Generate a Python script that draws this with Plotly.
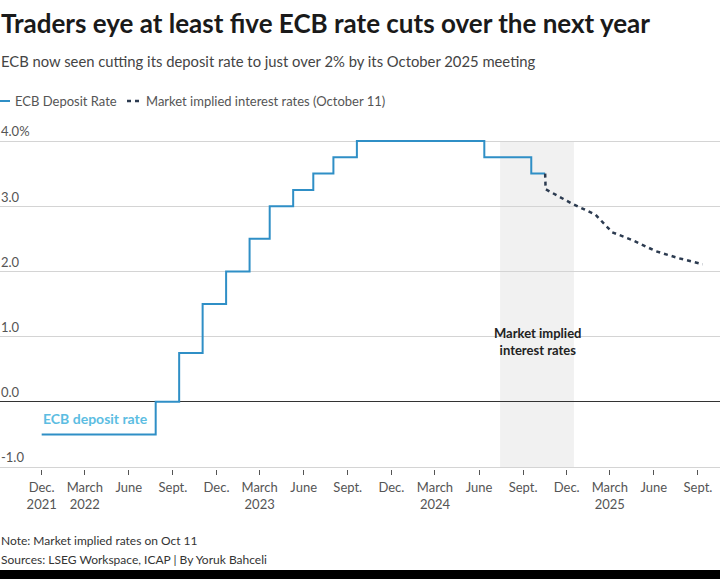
import plotly.graph_objects as go

# ---------------- data ----------------
ecb_dates = ["2021-12-01", "2022-07-27", "2022-09-14", "2022-11-02", "2022-12-21",
             "2023-02-08", "2023-03-22", "2023-05-10", "2023-06-21", "2023-08-02",
             "2023-09-20", "2024-06-12", "2024-09-18", "2024-10-17"]
ecb_rates = [-0.5, 0.0, 0.75, 1.5, 2.0, 2.5, 3.0, 3.25, 3.5, 3.75, 4.0, 3.75, 3.5, 3.5]

market_dates = ["2024-10-17", "2024-10-18", "2024-12-12", "2025-01-30", "2025-03-06",
                "2025-04-17", "2025-06-05", "2025-07-24", "2025-09-11"]
market_rates = [3.5, 3.26, 3.04, 2.87, 2.60, 2.48, 2.31, 2.20, 2.11]

shade_period = ["2024-07-15", "2024-12-16"]

x_tick_vals = ["2021-12-01", "2022-03-01", "2022-06-01", "2022-09-01", "2022-12-01",
               "2023-03-01", "2023-06-01", "2023-09-01", "2023-12-01", "2024-03-01",
               "2024-06-01", "2024-09-01", "2024-12-01", "2025-03-01", "2025-06-01",
               "2025-09-01"]
x_tick_text = ["Dec.<br>2021", "March<br>2022", "June", "Sept.", "Dec.", "March<br>2023",
               "June", "Sept.", "Dec.", "March<br>2024", "June", "Sept.", "Dec.",
               "March<br>2025", "June", "Sept."]
y_tick_vals = [-1, 0, 1, 2, 3, 4]
y_tick_text = ["-1.0", "0.0", "1.0", "2.0", "3.0", "4.0%"]

# ---------------- layout helpers ----------------
W, H = 720, 579
UNIT_PX = 65.2
Y_TOP_PX, Y_BOT_PX = 141, 467        # pixel rows of the 4.0 and -1.0 lines
PL, PR = 0, 720
PT, PB = 120, 469                    # plot area (room above 4.0 for its label)
PAD_TOP = (Y_TOP_PX - PT) / UNIT_PX
PAD_BOT = (PB - Y_BOT_PX) / UNIT_PX


def px(x):
    return (x - PL) / (PR - PL)


def py(y):
    return (PB - y) / (PB - PT)


FONT = "Lato"
BLUE = "#2f8fc6"
NAVY = "#2c3b50"

fig = go.Figure()

fig.add_shape(type="rect", xref="x", yref="y", x0=shade_period[0], x1=shade_period[1],
              y0=y_tick_vals[0], y1=y_tick_vals[-1], fillcolor="#f1f1f1", line_width=0,
              layer="below")

fig.add_trace(go.Scatter(x=ecb_dates, y=ecb_rates, mode="lines", line_shape="hv",
                         line=dict(color=BLUE, width=2), name="ECB Deposit Rate",
                         showlegend=False, hoverinfo="skip"))
fig.add_trace(go.Scatter(x=market_dates, y=market_rates, mode="lines",
                         line=dict(color=NAVY, width=2.5, dash="4px,4px"),
                         name="Market implied interest rates (October 11)",
                         showlegend=False, hoverinfo="skip"))

annotations = [
    dict(text="<b>Traders eye at least five ECB rate cuts over the next year</b>",
         x=px(-1), y=py(23), xanchor="left", yanchor="middle",
         font=dict(size=26, color="#1a1a1a", family=FONT)),
    dict(text="ECB now seen cutting its deposit rate to just over 2% by its October 2025 meeting",
         x=px(-1), y=py(61), xanchor="left", yanchor="middle",
         font=dict(size=14.8, color="#444", family=FONT)),
    dict(text="ECB Deposit Rate", x=px(13), y=py(101), xanchor="left", yanchor="middle",
         font=dict(size=13, color="#555", family=FONT)),
    dict(text="Market implied interest rates (October 11)", x=px(144), y=py(101),
         xanchor="left", yanchor="middle", font=dict(size=13, color="#555", family=FONT)),
    dict(text="<b>Market implied<br>interest rates</b>", x=px(537), y=py(341),
         xanchor="center", yanchor="middle",
         font=dict(size=13, color="#222", family=FONT)),
    dict(text="<b>ECB deposit rate</b>", x=px(95), y=py(418), xanchor="center",
         yanchor="middle", font=dict(size=14, color="#5cbde2", family=FONT)),
    dict(text="Note: Market implied rates on Oct 11", x=px(-1), y=py(540),
         xanchor="left", yanchor="middle", font=dict(size=12, color="#333", family=FONT)),
    dict(text="Sources: LSEG Workspace, ICAP | By Yoruk Bahceli", x=px(-1), y=py(559),
         xanchor="left", yanchor="middle", font=dict(size=12, color="#333", family=FONT)),
]
for a in annotations:
    a.update(xref="paper", yref="paper", showarrow=False)

shapes = [
    dict(type="line", xref="paper", yref="paper", x0=px(-2), x1=px(10), y0=py(101), y1=py(101),
         line=dict(color=BLUE, width=2)),
    dict(type="line", xref="paper", yref="paper", x0=px(127), x1=px(139), y0=py(101), y1=py(101),
         line=dict(color=NAVY, width=2.5, dash="4px,4px")),
    dict(type="rect", xref="paper", yref="paper", x0=-0.01, x1=1.01, y0=py(570), y1=py(590),
         fillcolor="#000", line_width=0),
]
for s in shapes:
    fig.add_shape(**s)

fig.update_layout(
    width=W, height=H,
    margin=dict(l=PL, r=W - PR, t=PT, b=H - PB, pad=0, autoexpand=False),
    paper_bgcolor="white", plot_bgcolor="white",
    showlegend=False,
    annotations=annotations,
    font=dict(family=FONT, color="#555"),
)

fig.update_xaxes(
    type="date", range=["2021-09-05", "2025-10-17"], automargin=False,
    tickvals=x_tick_vals, ticktext=x_tick_text,
    ticks="outside", ticklen=5, tickcolor="#555", tickwidth=1,
    tickfont=dict(size=13, color="#555", family=FONT),
    ticklabelstandoff=1,
    showgrid=False, showline=False, zeroline=False,
)
fig.update_yaxes(
    range=[y_tick_vals[0] - PAD_BOT, y_tick_vals[-1] + PAD_TOP], automargin=False,
    tickvals=y_tick_vals, ticktext=y_tick_text,
    ticklabelposition="inside top", ticklabelstandoff=-2,
    tickfont=dict(size=13, color="#555", family=FONT),
    showgrid=True, gridcolor="#d4d4d4", gridwidth=1,
    zeroline=True, zerolinecolor="#333", zerolinewidth=1.3,
    showline=False, ticks="",
)

fig.write_html("out.html", config={"displayModeBar": False},
               post_script="document.body.style.margin='0';")
